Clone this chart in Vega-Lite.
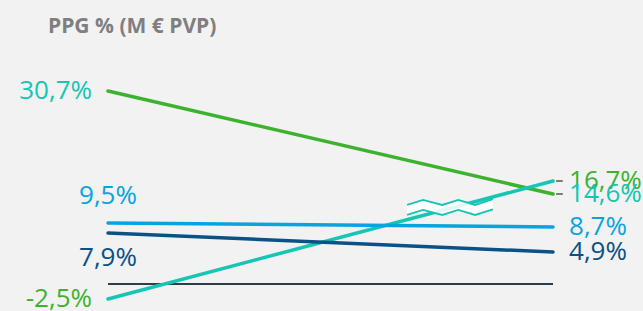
{
  "$schema": "https://vega.github.io/schema/vega-lite/v6.json",
  "width": 643,
  "height": 266,
  "autosize": {"type": "none"},
  "padding": {"left": 0, "top": 45, "right": 0, "bottom": 0},
  "background": "#f2f2f2",
  "title": {
    "text": "PPG % (M € PVP)",
    "anchor": "start",
    "frame": "group",
    "orient": "top",
    "offset": 8,
    "dx": 48,
    "font": "Open Sans",
    "fontSize": 21,
    "fontWeight": "bold",
    "color": "#7f7f7f"
  },
  "config": {
    "view": {"stroke": null},
    "text": {"font": "Open Sans"}
  },
  "datasets": {
    "lines": [
      {"series": "verde", "period": 0, "value": 30.7},
      {"series": "verde", "period": 1, "value": 14.6},
      {"series": "turquesa", "period": 0, "value": -2.5},
      {"series": "turquesa", "period": 1, "value": 16.7},
      {"series": "azul claro", "period": 0, "value": 9.5},
      {"series": "azul claro", "period": 1, "value": 8.7},
      {"series": "azul oscuro", "period": 0, "value": 7.9},
      {"series": "azul oscuro", "period": 1, "value": 4.9}
    ],
    "labels": [
      {"label": "30,7%", "period": 0, "value": 30.7, "series": "turquesa"},
      {"label": "9,5%", "period": 0, "value": 9.5, "series": "azul claro"},
      {"label": "7,9%", "period": 0, "value": 7.9, "series": "azul oscuro"},
      {"label": "-2,5%", "period": 0, "value": -2.5, "series": "verde"},
      {"label": "16,7%", "period": 1, "value": 16.7, "series": "verde"},
      {"label": "14,6%", "period": 1, "value": 14.6, "series": "turquesa"},
      {"label": "8,7%", "period": 1, "value": 8.7, "series": "azul claro"},
      {"label": "4,9%", "period": 1, "value": 4.9, "series": "azul oscuro"}
    ],
    "brk": [
      {"bx": 0.672, "top": 12.67, "bottom": 10.91},
      {"bx": 0.708, "top": 13.55, "bottom": 11.79},
      {"bx": 0.751, "top": 12.67, "bottom": 10.91},
      {"bx": 0.787, "top": 13.55, "bottom": 11.79},
      {"bx": 0.825, "top": 12.67, "bottom": 10.91},
      {"bx": 0.865, "top": 13.7, "bottom": 11.9}
    ]
  },
  "resolve": {"scale": {"color": "shared"}},
  "layer": [
    {
      "data": {"values": [{"value": 0}]},
      "mark": {"type": "rule", "color": "#2f3e46", "strokeWidth": 2},
      "encoding": {
        "y": {"field": "value", "type": "quantitative", "scale": {"domain": [-2.5, 0, 4.9, 7.9, 8.7, 9.5, 14.6, 16.7, 30.7], "range": [254, 239, 207, 188, 182, 178, 149, 136, 46], "nice": false, "zero": false}, "axis": null},
        "x": {"datum": 0, "type": "quantitative", "scale": {"domain": [-0.2427, 1.2022], "nice": false, "zero": false}, "axis": null},
        "x2": {"datum": 1}
      }
    },
    {
      "data": {"name": "lines"},
      "mark": {"type": "line", "strokeWidth": 3.5, "strokeCap": "round"},
      "encoding": {
        "x": {"field": "period", "type": "quantitative", "axis": null},
        "y": {"field": "value", "type": "quantitative", "axis": null},
        "color": {"field": "series", "type": "nominal", "legend": null,
          "scale": {"domain": ["verde", "turquesa", "azul claro", "azul oscuro"], "range": ["#3db22f", "#14c6b3", "#08a4e0", "#0a5186"]}},
        "detail": {"field": "series"}
      }
    },
    {
      "data": {"name": "brk"},
      "mark": {"type": "area", "color": "white", "opacity": 0.88},
      "encoding": {
        "x": {"field": "bx", "type": "quantitative", "axis": null},
        "y": {"field": "top", "type": "quantitative", "axis": null},
        "y2": {"field": "bottom"}
      }
    },
    {
      "data": {"name": "brk"},
      "mark": {"type": "line", "color": "#14c6b3", "strokeWidth": 1.8},
      "encoding": {
        "x": {"field": "bx", "type": "quantitative", "axis": null},
        "y": {"field": "top", "type": "quantitative", "axis": null}
      }
    },
    {
      "data": {"name": "brk"},
      "mark": {"type": "line", "color": "#14c6b3", "strokeWidth": 1.8},
      "encoding": {
        "x": {"field": "bx", "type": "quantitative", "axis": null},
        "y": {"field": "bottom", "type": "quantitative", "axis": null}
      }
    },
    {
      "data": {"name": "labels"},
      "transform": [{"filter": "datum.period == 1 && datum.value > 14"}],
      "mark": {"type": "rule", "color": "#555555", "strokeWidth": 1.5},
      "encoding": {
        "x": {"datum": 1.007, "type": "quantitative"},
        "x2": {"datum": 1.022},
        "y": {"field": "value", "type": "quantitative", "axis": null}
      }
    },
    {
      "data": {"name": "labels"},
      "transform": [{"filter": "datum.period == 0 && (datum.value > 20 || datum.value < 0)"}],
      "mark": {"type": "text", "align": "right", "baseline": "middle", "dx": -16, "fontSize": 26},
      "encoding": {
        "x": {"field": "period", "type": "quantitative"},
        "y": {"field": "value", "type": "quantitative", "axis": null},
        "text": {"field": "label"},
        "color": {"field": "series", "type": "nominal", "legend": null}
      }
    },
    {
      "data": {"name": "labels"},
      "transform": [{"filter": "datum.period == 0 && datum.value == 9.5"}],
      "mark": {"type": "text", "align": "center", "baseline": "middle", "dy": -27, "fontSize": 26},
      "encoding": {
        "x": {"field": "period", "type": "quantitative"},
        "y": {"field": "value", "type": "quantitative", "axis": null},
        "text": {"field": "label"},
        "color": {"field": "series", "type": "nominal", "legend": null}
      }
    },
    {
      "data": {"name": "labels"},
      "transform": [{"filter": "datum.period == 0 && datum.value == 7.9"}],
      "mark": {"type": "text", "align": "center", "baseline": "middle", "dy": 25, "fontSize": 26},
      "encoding": {
        "x": {"field": "period", "type": "quantitative"},
        "y": {"field": "value", "type": "quantitative", "axis": null},
        "text": {"field": "label"},
        "color": {"field": "series", "type": "nominal", "legend": null}
      }
    },
    {
      "data": {"name": "labels"},
      "transform": [{"filter": "datum.period == 1"}],
      "mark": {"type": "text", "align": "left", "baseline": "middle", "dx": 16, "fontSize": 26},
      "encoding": {
        "x": {"field": "period", "type": "quantitative"},
        "y": {"field": "value", "type": "quantitative", "axis": null},
        "text": {"field": "label"},
        "color": {"field": "series", "type": "nominal", "legend": null}
      }
    }
  ]
}
